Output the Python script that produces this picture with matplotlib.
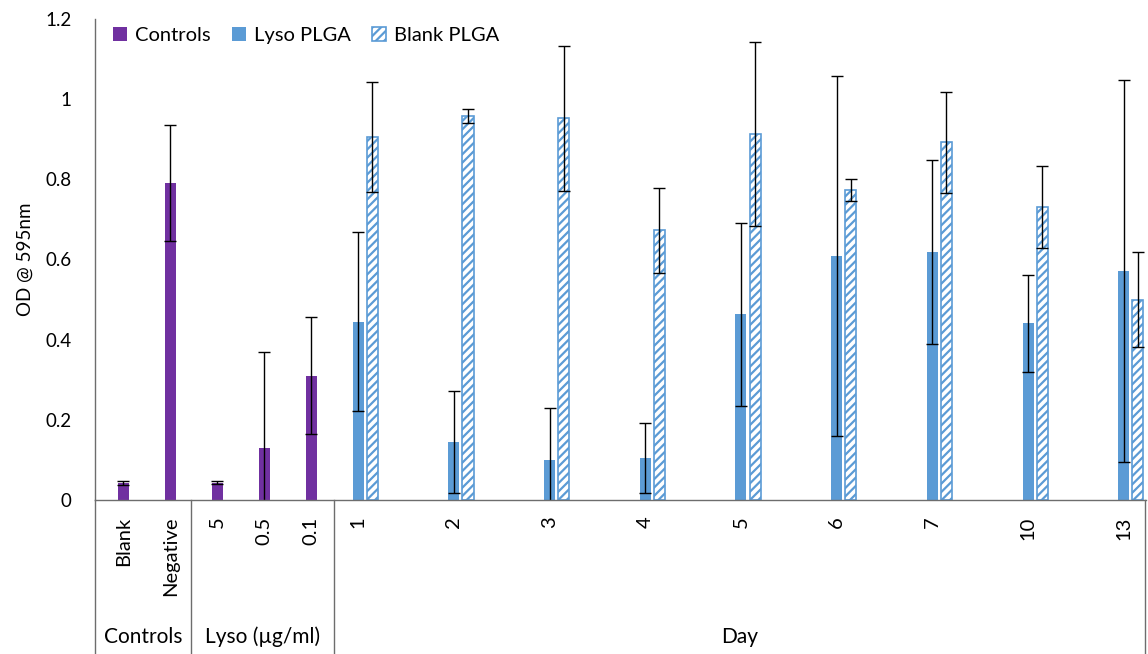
import matplotlib.pyplot as plt
import numpy as np
from matplotlib.ticker import FuncFormatter
import matplotlib.transforms as mtransforms

plt.rcParams['font.family'] = ['Lato', 'DejaVu Sans']
plt.rcParams['hatch.linewidth'] = 1.6

# datos
control_labels = ['Blank', 'Negative', '5', '0.5', '0.1']
control_vals = [0.042, 0.79, 0.043, 0.13, 0.31]
control_err = [0.005, 0.145, 0.004, 0.24, 0.146]

days = ['1', '2', '3', '4', '5', '6', '7', '10', '13']
lyso_vals = [0.445, 0.145, 0.10, 0.105, 0.463, 0.609, 0.618, 0.441, 0.572]
lyso_err = [0.224, 0.128, 0.13, 0.087, 0.229, 0.45, 0.23, 0.121, 0.477]
blank_vals = [0.906, 0.958, 0.952, 0.673, 0.913, 0.773, 0.892, 0.731, 0.50]
blank_err = [0.137, 0.018, 0.18, 0.106, 0.229, 0.028, 0.126, 0.103, 0.119]

groups = ['Controls', 'Lyso (µg/ml)', 'Day']

purple = '#7030A0'
blue = '#5B9BD5'
grey = '#6d6d6d'

# posiciones
x_ctrl = np.arange(len(control_vals))
x_day = 5 + 2.037 * np.arange(len(days))
off = 0.30
w = 0.235

fig = plt.figure(figsize=(11.48, 6.54), dpi=100)
ax = fig.add_axes([95 / 1148, 154 / 654, 1051 / 1148, 481 / 654])

ekw = dict(ecolor='black', elinewidth=1, capsize=4, capthick=1)
ax.bar(x_ctrl, control_vals, w, color=purple, yerr=control_err, error_kw=ekw, label='Controls')
ax.bar(x_day, lyso_vals, w, color=blue, yerr=lyso_err, error_kw=ekw, label='Lyso PLGA')
ax.bar(x_day + off, blank_vals, w, facecolor='white', edgecolor=blue, hatch='////',
       linewidth=1.2, yerr=blank_err, error_kw=ekw, label='Blank PLGA')

ax.set_xlim(-0.603, 21.77)
ax.set_ylim(0, 1.2)
ax.set_yticks(np.arange(0, 1.21, 0.2))
ax.yaxis.set_major_formatter(FuncFormatter(lambda v, p: '%g' % round(v, 1)))
ax.tick_params(axis='y', length=0, pad=17, labelsize=13.5)

ax.set_xticks(np.concatenate([x_ctrl, x_day]))
ax.set_xticklabels(control_labels + days, rotation=90, fontsize=14.5)
ax.tick_params(axis='x', length=0, pad=12)

for s in ['top', 'right']:
    ax.spines[s].set_visible(False)
for s in ['left', 'bottom']:
    ax.spines[s].set_color(grey)
    ax.spines[s].set_linewidth(1)

ax.set_ylabel('OD @ 595nm', fontsize=13.5)
ax.yaxis.set_label_coords(-0.058, 0.5)

# separadores de grupos bajo el eje
trans = mtransforms.blended_transform_factory(ax.transData, ax.transAxes)
for xs in [-0.603, 1.45, 4.48, 21.75]:
    ax.plot([xs, xs], [0, -0.33], color=grey, lw=1, transform=trans, clip_on=False)

group_x = [(-0.603 + 1.45) / 2, (1.45 + 4.48) / 2, (4.48 + 21.75) / 2]
for gx, g in zip(group_x, groups):
    ax.text(gx, -0.285, g, transform=trans, ha='center', va='center', fontsize=15)

ax.legend(loc='upper left', ncol=3, frameon=False, fontsize=14.5,
          handlelength=0.7, handleheight=0.7, handletextpad=0.4,
          columnspacing=1.05, bbox_to_anchor=(0.0, 1.022))

fig.savefig('out.png', dpi=100)
